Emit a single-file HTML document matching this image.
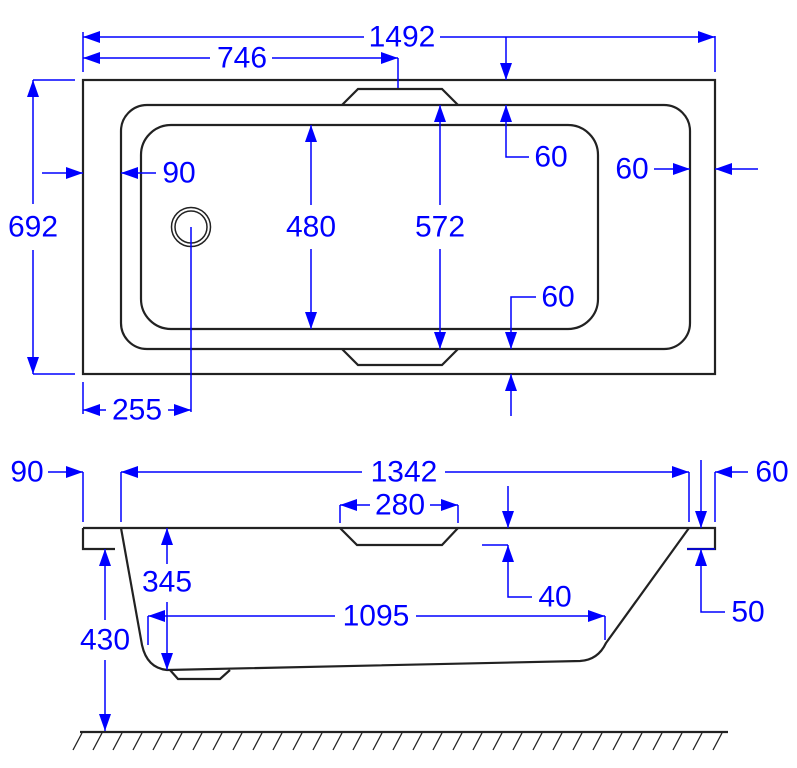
<!DOCTYPE html>
<html><head><meta charset="utf-8"><style>
html,body{margin:0;padding:0;background:#fff;}
svg{display:block;}
text{font-family:"Liberation Sans",Arial,sans-serif;font-size:30px;fill:#0000ff;text-anchor:middle;dominant-baseline:central;}
</style></head><body>
<svg width="797" height="768" viewBox="0 0 797 768" xmlns="http://www.w3.org/2000/svg">
<defs>
<marker id="a" viewBox="0 0 17 12" refX="17" refY="6" markerWidth="17" markerHeight="12" markerUnits="userSpaceOnUse" orient="auto-start-reverse">
<path d="M0,0 L17,6 L0,12 Z" fill="#0000ff"/></marker>
</defs>
<g fill="none" stroke="#222" stroke-width="2.2">
<rect x="83" y="80" width="632" height="294"/>
<rect x="121" y="105" width="569" height="244" rx="26"/>
<rect x="141" y="125" width="457" height="204" rx="30"/>
<path d="M342,105 L358,89 L442,89 L458,105"/>
<path d="M342,349 L358,365 L442,365 L458,349"/>
<circle cx="191" cy="227" r="19.5" stroke-width="1.5"/>
<circle cx="191" cy="227" r="16" stroke-width="1.5"/>
<path d="M83,528 L715,528 L715,549 L687,549"/>
<path d="M83,528 L83,549 L115,549"/>
<path d="M121,528 L142,645 Q147,668 167,670 L580,661 Q598,660 606,643 L689,528"/>
<path d="M170,670 L178,679 L220,679 L230,670"/>
<path d="M340,528 L357,545 L442,545 L458,528"/>
<line x1="80" y1="732" x2="728" y2="732"/>
</g>
<g stroke="#222" stroke-width="1.3">
<line x1="82" y1="733" x2="73" y2="750"/><line x1="102" y1="733" x2="93" y2="750"/><line x1="122" y1="733" x2="113" y2="750"/><line x1="142" y1="733" x2="133" y2="750"/><line x1="162" y1="733" x2="153" y2="750"/><line x1="182" y1="733" x2="173" y2="750"/><line x1="202" y1="733" x2="193" y2="750"/><line x1="222" y1="733" x2="213" y2="750"/><line x1="242" y1="733" x2="233" y2="750"/><line x1="262" y1="733" x2="253" y2="750"/><line x1="282" y1="733" x2="273" y2="750"/><line x1="302" y1="733" x2="293" y2="750"/><line x1="322" y1="733" x2="313" y2="750"/><line x1="342" y1="733" x2="333" y2="750"/><line x1="362" y1="733" x2="353" y2="750"/><line x1="382" y1="733" x2="373" y2="750"/><line x1="402" y1="733" x2="393" y2="750"/><line x1="422" y1="733" x2="413" y2="750"/><line x1="442" y1="733" x2="433" y2="750"/><line x1="462" y1="733" x2="453" y2="750"/><line x1="482" y1="733" x2="473" y2="750"/><line x1="502" y1="733" x2="493" y2="750"/><line x1="522" y1="733" x2="513" y2="750"/><line x1="542" y1="733" x2="533" y2="750"/><line x1="562" y1="733" x2="553" y2="750"/><line x1="582" y1="733" x2="573" y2="750"/><line x1="602" y1="733" x2="593" y2="750"/><line x1="622" y1="733" x2="613" y2="750"/><line x1="642" y1="733" x2="633" y2="750"/><line x1="662" y1="733" x2="653" y2="750"/><line x1="682" y1="733" x2="673" y2="750"/><line x1="702" y1="733" x2="693" y2="750"/><line x1="722" y1="733" x2="713" y2="750"/>
</g>
<g stroke="#0000ff" stroke-width="1.5" fill="none">
<line x1="83" y1="32" x2="83" y2="72"/><line x1="715" y1="36" x2="715" y2="72"/>
<line x1="364" y1="37" x2="83" y2="37" marker-end="url(#a)"/>
<line x1="440" y1="37" x2="715" y2="37" marker-end="url(#a)"/>
<line x1="210" y1="58" x2="83" y2="58" marker-end="url(#a)"/>
<line x1="272" y1="58" x2="398" y2="58" marker-end="url(#a)"/>
<line x1="398" y1="58" x2="398" y2="88"/>
<line x1="33" y1="80" x2="75" y2="80"/><line x1="33" y1="374" x2="75" y2="374"/>
<line x1="33" y1="204" x2="33" y2="80" marker-end="url(#a)"/>
<line x1="33" y1="250" x2="33" y2="374" marker-end="url(#a)"/>
<line x1="42" y1="173" x2="83" y2="173" marker-end="url(#a)"/>
<line x1="156" y1="173" x2="121" y2="173" marker-end="url(#a)"/>
<line x1="311" y1="205" x2="311" y2="125" marker-end="url(#a)"/>
<line x1="311" y1="249" x2="311" y2="329" marker-end="url(#a)"/>
<line x1="440" y1="205" x2="440" y2="105" marker-end="url(#a)"/>
<line x1="440" y1="249" x2="440" y2="349" marker-end="url(#a)"/>
<line x1="506" y1="37" x2="506" y2="80" marker-end="url(#a)"/>
<path d="M529,157 L506,157 L506,105" marker-end="url(#a)"/>
<line x1="654" y1="169" x2="690" y2="169" marker-end="url(#a)"/>
<line x1="758" y1="169" x2="715" y2="169" marker-end="url(#a)"/>
<path d="M536,297 L511,297 L511,349" marker-end="url(#a)"/>
<line x1="511" y1="416" x2="511" y2="374" marker-end="url(#a)"/>
<line x1="83" y1="382" x2="83" y2="414"/>
<line x1="191" y1="227" x2="191" y2="412"/>
<line x1="106" y1="410" x2="83" y2="410" marker-end="url(#a)"/>
<line x1="168" y1="410" x2="191" y2="410" marker-end="url(#a)"/>
<line x1="48" y1="472" x2="83" y2="472" marker-end="url(#a)"/>
<line x1="83" y1="472" x2="83" y2="522"/>
<line x1="121" y1="472" x2="121" y2="522"/><line x1="689" y1="472" x2="689" y2="522"/>
<line x1="362" y1="472" x2="121" y2="472" marker-end="url(#a)"/>
<line x1="445" y1="472" x2="689" y2="472" marker-end="url(#a)"/>
<line x1="701" y1="460" x2="701" y2="528" marker-end="url(#a)"/>
<line x1="748" y1="472" x2="715" y2="472" marker-end="url(#a)"/>
<line x1="715" y1="472" x2="715" y2="522"/>
<line x1="340" y1="505" x2="340" y2="523"/><line x1="458" y1="505" x2="458" y2="523"/>
<line x1="370" y1="505" x2="340" y2="505" marker-end="url(#a)"/>
<line x1="430" y1="505" x2="458" y2="505" marker-end="url(#a)"/>
<line x1="508" y1="486" x2="508" y2="528" marker-end="url(#a)"/>
<line x1="482" y1="545" x2="508" y2="545"/>
<path d="M532,597 L508,597 L508,545" marker-end="url(#a)"/>
<path d="M725,612 L701,612 L701,549" marker-end="url(#a)"/>
<line x1="687" y1="549" x2="715" y2="549"/>
<line x1="167" y1="564" x2="167" y2="528" marker-end="url(#a)"/>
<line x1="167" y1="602" x2="167" y2="670" marker-end="url(#a)"/>
<line x1="148" y1="616" x2="148" y2="645"/><line x1="605" y1="616" x2="605" y2="640"/>
<line x1="335" y1="616" x2="148" y2="616" marker-end="url(#a)"/>
<line x1="416" y1="616" x2="605" y2="616" marker-end="url(#a)"/>
<line x1="105" y1="620" x2="105" y2="549" marker-end="url(#a)"/>
<line x1="105" y1="660" x2="105" y2="731" marker-end="url(#a)"/>
</g>
<g>
<text x="402" y="37">1492</text>
<text x="242" y="58">746</text>
<text x="33" y="227">692</text>
<text x="179" y="173">90</text>
<text x="311" y="227">480</text>
<text x="440" y="227">572</text>
<text x="551" y="157">60</text>
<text x="632" y="169">60</text>
<text x="558" y="297">60</text>
<text x="137" y="410">255</text>
<text x="27" y="472">90</text>
<text x="404" y="472">1342</text>
<text x="772" y="472">60</text>
<text x="400" y="505">280</text>
<text x="555" y="597">40</text>
<text x="748" y="612">50</text>
<text x="167" y="582">345</text>
<text x="376" y="616">1095</text>
<text x="105" y="640">430</text>
</g>
</svg>
</body></html>
